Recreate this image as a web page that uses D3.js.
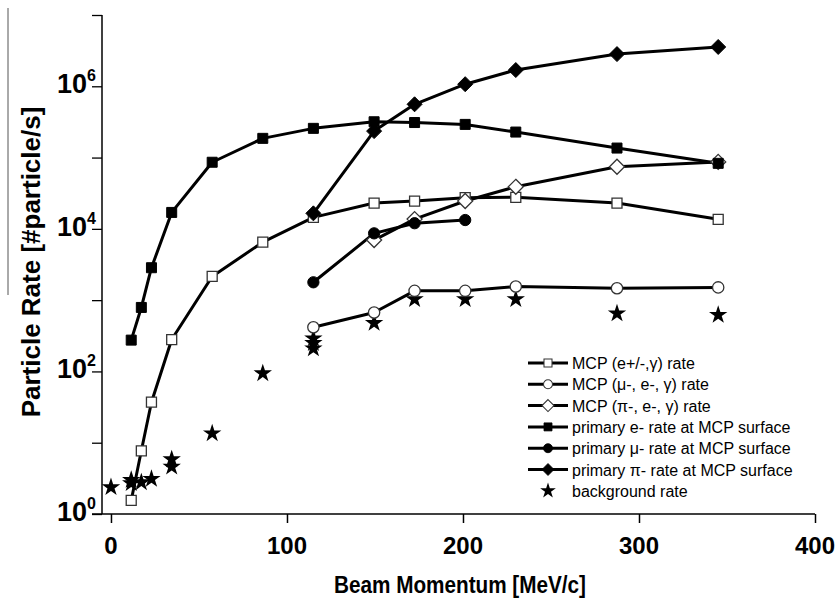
<!DOCTYPE html>
<html>
<head>
<meta charset="utf-8">
<script src="https://cdn.jsdelivr.net/npm/d3@7"></script>
<style>
  body { margin: 0; background: #fff; }
  svg { display: block; }
  text { font-family: "Liberation Sans", Arial, sans-serif; fill: #000; }
</style>
</head>
<body>
<svg id="chart" width="837" height="601"></svg>
<script>
// ---- data ----
const momentumAll = [11.5, 17.25, 23, 34.5, 57.5, 86.25, 115, 149.5, 172.5, 201.25, 230, 287.5, 345];
const mcpEGamma   = [1.55, 7.7, 37, 280, 2150, 6500, 14500, 23000, 24500, 27400, 27700, 23000, 13600];
const primaryE    = [275, 790, 2850, 17000, 86000, 186000, 257000, 318000, 310000, 292000, 228000, 136000, 83000];

const momentumHigh = [115, 149.5, 172.5, 201.25, 230, 287.5, 345];
const mcpMu        = [416, 672, 1350, 1350, 1550, 1470, 1510];
const primaryPi    = [16500, 235000, 559000, 1070000, 1690000, 2830000, 3560000];

const momentumMcpPi = [149.5, 172.5, 201.25, 230, 287.5, 345];
const mcpPi         = [6960, 13700, 24600, 38900, 74400, 87000];

const momentumPrimMu = [115, 149.5, 172.5, 201.25];
const primaryMu      = [1780, 8650, 12000, 13300];

const bgMomentum = [0, 11.5, 11.5, 17.25, 23, 34.5, 34.5, 57.5, 86.25, 115, 115, 115, 149.5, 172.5, 201.25, 230, 287.5, 345];
const bgRate     = [2.37, 3.0, 2.7, 2.78, 3.1, 5.85, 4.6, 13.5, 94, 290, 250, 210, 478, 1030, 1030, 1030, 650, 620];

const xTicks = [0, 100, 200, 300, 400];
const yLabelExps = [0, 2, 4, 6];

const legendLabels = [
  "MCP (e+/-,\u03b3) rate",
  "MCP (\u03bc-, e-, \u03b3) rate",
  "MCP (\u03c0-, e-, \u03b3) rate",
  "primary e- rate at MCP surface",
  "primary \u03bc- rate at MCP surface",
  "primary \u03c0- rate at MCP surface",
  "background rate"
];

// ---- scales ----
const svg = d3.select("#chart");
const x = d3.scaleLinear().domain([-5.1, 400]).range([102, 815]);
const y = d3.scaleLog().domain([1, 1e7]).range([514, 15]);

// ---- marker generators ----
const symSquare = d3.symbol().type(d3.symbolSquare).size(100);
const symCircle = d3.symbol().type(d3.symbolCircle).size(100);
const symStar = d3.symbol().type(d3.symbolStar).size(105);
function diamondPath(s) { return `M0,${-s}L${s},0L0,${s}L${-s},0Z`; }

const series = [
  { xs: momentumAll,    ys: mcpEGamma, shape: "square",  filled: false },
  { xs: momentumHigh,   ys: mcpMu,     shape: "circle",  filled: false },
  { xs: momentumMcpPi,  ys: mcpPi,     shape: "diamond", filled: false },
  { xs: momentumAll,    ys: primaryE,  shape: "square",  filled: true },
  { xs: momentumPrimMu, ys: primaryMu, shape: "circle",  filled: true },
  { xs: momentumHigh,   ys: primaryPi, shape: "diamond", filled: true }
];

function markerPath(shape) {
  if (shape === "square") return symSquare();
  if (shape === "circle") return symCircle();
  if (shape === "diamond") return diamondPath(7.5);
  return symStar();
}
function styleMarker(sel, s) {
  sel.attr("fill", s.filled ? "#000" : "#fff")
     .attr("stroke", s.filled ? "#000" : "#333")
     .attr("stroke-width", s.filled ? 1 : 1.3);
}

// ---- axes ----
const xAxisG = svg.append("g").attr("transform", "translate(0,514)");
xAxisG.call(d3.axisBottom(x).tickValues([50, 150, 250, 350]).tickSize(5).tickFormat(""));
xAxisG.call(d3.axisBottom(x).tickValues(xTicks).tickSize(9).tickFormat(""));
xAxisG.selectAll(".domain").remove();
xAxisG.append("line").attr("x1", 92).attr("x2", x(400)).attr("y1", 0).attr("y2", 0)
  .attr("stroke", "#000").attr("stroke-width", 1.5);
xAxisG.selectAll(".tick line").attr("stroke", "#000").attr("stroke-width", 1.5);

const xl = svg.append("g");
xl.selectAll("text").data(xTicks).enter().append("text")
  .attr("x", d => x(d)).attr("y", 554)
  .attr("text-anchor", "middle")
  .attr("font-size", 24).attr("font-weight", "bold")
  .text(d => d);

const yMinor = y.ticks().filter(v => Math.abs(Math.log10(v) - Math.round(Math.log10(v))) > 1e-6);
const yMajor = d3.range(0, 8).map(e => Math.pow(10, e));
const yAxisG = svg.append("g").attr("transform", "translate(102,0)");
yAxisG.call(d3.axisLeft(y).tickValues(yMinor).tickSize(5).tickFormat(""));
yAxisG.call(d3.axisLeft(y).tickValues(yMajor).tickSize(10).tickFormat(""));
yAxisG.selectAll(".domain").remove();
yAxisG.append("line").attr("x1", 0).attr("x2", 0).attr("y1", y(1e7)).attr("y2", y(1))
  .attr("stroke", "#000").attr("stroke-width", 1.5);
yAxisG.selectAll(".tick line").attr("stroke", "#000").attr("stroke-width", 1.3);

const yl = svg.append("g");
yLabelExps.forEach(e => {
  const t = yl.append("text")
    .attr("x", 96).attr("y", y(Math.pow(10, e)) + 7)
    .attr("text-anchor", "end")
    .attr("font-weight", "bold");
  t.append("tspan").attr("font-size", 27).text("10");
  t.append("tspan").attr("font-size", 16).attr("dy", -12).text(e);
});

// axis titles
svg.append("text")
  .attr("x", 460).attr("y", 593)
  .attr("text-anchor", "middle")
  .attr("font-size", 24).attr("font-weight", "bold")
  .attr("textLength", 252).attr("lengthAdjust", "spacingAndGlyphs")
  .text("Beam Momentum [MeV/c]");
svg.append("text")
  .attr("transform", "translate(40,262) rotate(-90)")
  .attr("text-anchor", "middle")
  .attr("font-size", 26).attr("font-weight", "bold")
  .text("Particle Rate [#particle/s]");

// stray line at the top left of the original
svg.append("line").attr("x1", 8).attr("x2", 8).attr("y1", 8).attr("y2", 295)
  .attr("stroke", "#555").attr("stroke-width", 1);

// ---- lines ----
const line = d3.line().x(d => x(d[0])).y(d => y(d[1]));
const plot = svg.append("g");
series.forEach(s => {
  const pts = s.xs.map((v, i) => [v, s.ys[i]]);
  plot.append("path").datum(pts).attr("d", line)
    .attr("fill", "none").attr("stroke", "#000").attr("stroke-width", 3)
    .attr("stroke-linejoin", "round");
});

// stars
plot.selectAll(".star").data(bgMomentum.map((v, i) => [v, bgRate[i]])).enter()
  .append("path")
  .attr("d", symStar())
  .attr("transform", d => `translate(${x(d[0])},${y(d[1])})`)
  .attr("fill", "#000");

// markers
series.forEach(s => {
  const pts = s.xs.map((v, i) => [v, s.ys[i]]);
  plot.selectAll(null).data(pts).enter().append("path")
    .attr("d", markerPath(s.shape))
    .attr("transform", d => `translate(${x(d[0])},${y(d[1])})`)
    .call(styleMarker, s);
});

// ---- legend ----
const lg = svg.append("g");
const rowY0 = 363, rowDy = 21.3;
legendLabels.forEach((lab, i) => {
  const ry = rowY0 + i * rowDy;
  if (i < 6) {
    lg.append("line").attr("x1", 528).attr("x2", 568).attr("y1", ry).attr("y2", ry)
      .attr("stroke", "#000").attr("stroke-width", 3);
    const s = series[i];
    lg.append("path").attr("d", markerPath(s.shape))
      .attr("transform", `translate(548,${ry}) scale(0.8)`).call(styleMarker, s);
  } else {
    lg.append("path").attr("d", symStar()).attr("transform", `translate(548,${ry}) scale(0.85)`).attr("fill", "#000");
  }
  lg.append("text").attr("x", 572).attr("y", ry + 6)
    .attr("font-size", 16).text(lab);
});
</script>
</body>
</html>
